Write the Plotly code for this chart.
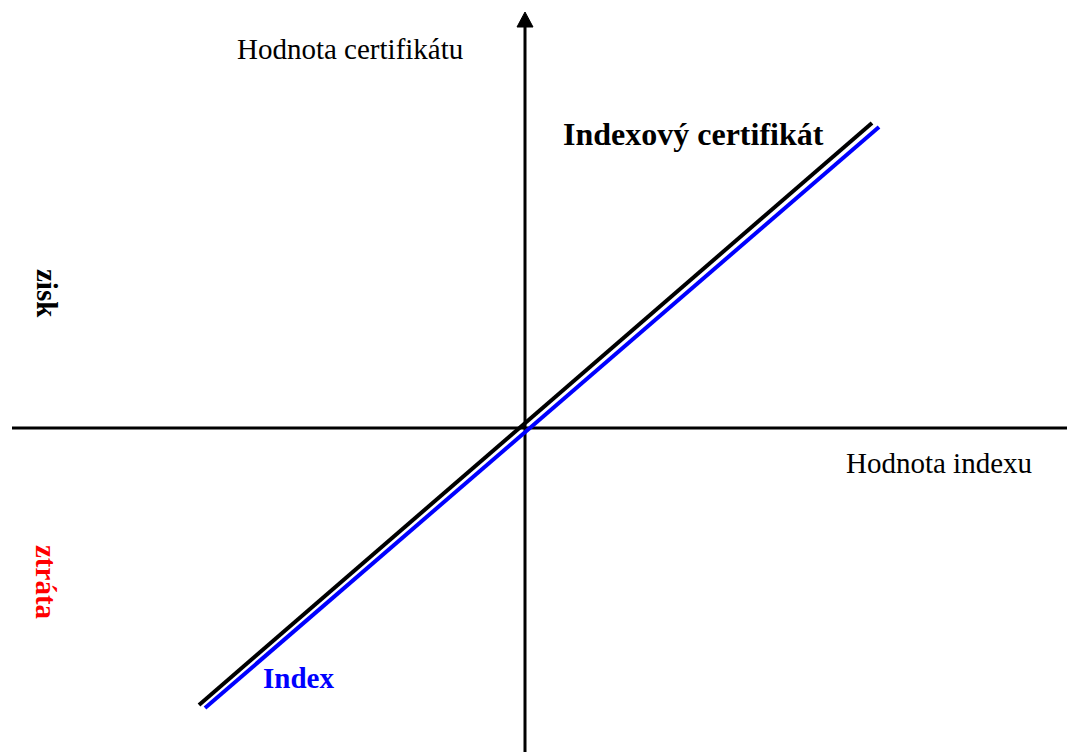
import plotly.graph_objects as go

# Data coordinates: origin where the two axes cross
cert_x = [-326, 347]
cert_y = [-277, 305]
index_x = [-320, 354]
index_y = [-280, 301]

x_axis_span = [-513, 548]
y_axis_span = [-324, 401]
arrow_tip = 416

X_RANGE = [-517, 550]
Y_RANGE = [-324, 420]
OFF = 8  # page body margin

FONT = "Liberation Serif, Times New Roman, serif"

fig = go.Figure()

# axes
fig.add_trace(go.Scatter(x=x_axis_span, y=[0, 0], mode="lines",
                         line=dict(color="black", width=3), hoverinfo="skip"))
fig.add_trace(go.Scatter(x=[0, 0], y=y_axis_span, mode="lines",
                         line=dict(color="black", width=3), hoverinfo="skip"))
# end tick on horizontal axis
fig.add_trace(go.Scatter(x=[x_axis_span[1], x_axis_span[1]], y=[-7, 9], mode="lines",
                         line=dict(color="black", width=1.5), hoverinfo="skip"))
# arrowhead on vertical axis
fig.add_trace(go.Scatter(x=[-8, 8, 0, -8], y=[y_axis_span[1], y_axis_span[1], arrow_tip, y_axis_span[1]],
                         mode="lines", fill="toself", fillcolor="black",
                         line=dict(color="black", width=1), hoverinfo="skip"))

# series
fig.add_trace(go.Scatter(x=cert_x, y=cert_y, mode="lines", name="Indexový certifikát",
                         line=dict(color="black", width=4)))
fig.add_trace(go.Scatter(x=index_x, y=index_y, mode="lines", name="Index",
                         line=dict(color="#0000ff", width=4)))

def px(xp):
    return X_RANGE[0] + (xp - OFF)

def py(yp):
    return Y_RANGE[1] - (yp - OFF)

ann = [
    dict(text="Hodnota certifikátu", x=px(350), y=py(49), size=29, color="black", bold=False, angle=0),
    dict(text="Indexový certifikát", x=px(693), y=py(134), size=32, color="black", bold=True, angle=0),
    dict(text="Hodnota indexu", x=px(939), y=py(463), size=29, color="black", bold=False, angle=0),
    dict(text="Index", x=px(298), y=py(678), size=29, color="#0000ff", bold=True, angle=0),
    dict(text="zisk", x=px(47), y=py(293), size=29, color="black", bold=True, angle=90),
    dict(text="ztráta", x=px(46), y=py(582), size=29, color="#ff0000", bold=True, angle=90),
]
for a in ann:
    t = f"<b>{a['text']}</b>" if a["bold"] else a["text"]
    fig.add_annotation(x=a["x"], y=a["y"], text=t, showarrow=False, textangle=a["angle"],
                       xanchor="center", yanchor="middle",
                       font=dict(family=FONT, size=a["size"], color=a["color"]))

fig.update_layout(
    width=1067, height=744,
    margin=dict(l=0, r=0, t=0, b=0),
    paper_bgcolor="white", plot_bgcolor="white",
    showlegend=False,
    xaxis=dict(range=X_RANGE, visible=False, fixedrange=True),
    yaxis=dict(range=Y_RANGE, visible=False, fixedrange=True),
)

fig.write_html("out.html")
